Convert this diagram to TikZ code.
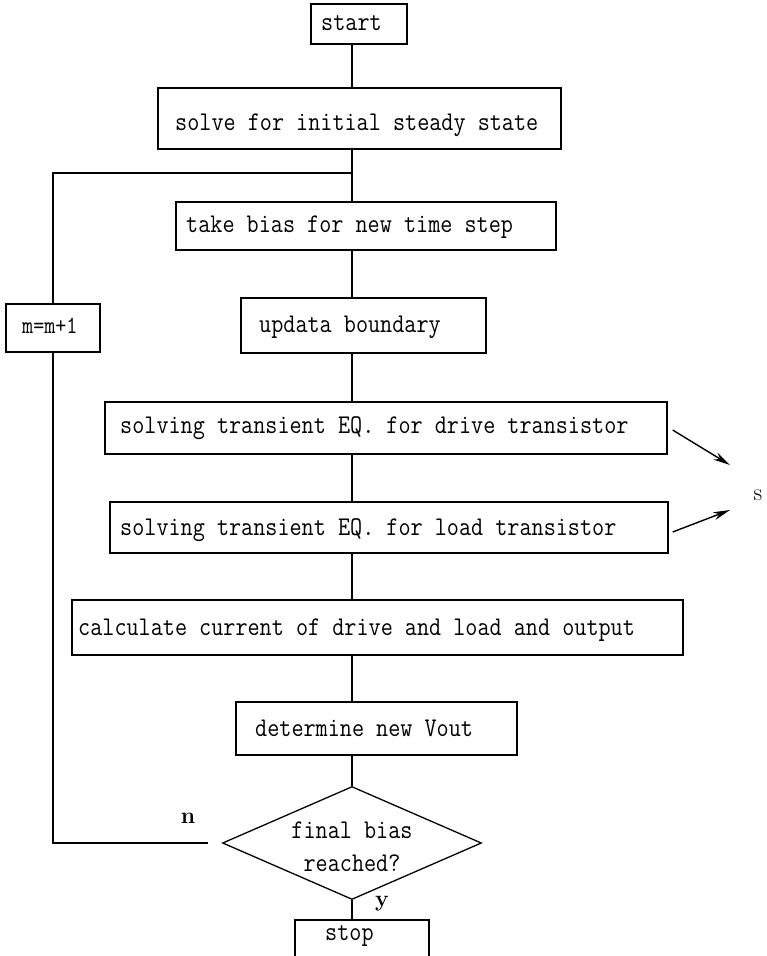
\documentclass[tikz,border=0pt]{standalone}
\usepackage{fontspec}
\usetikzlibrary{shapes.geometric,arrows.meta}
% slightly taller typewriter lettering
\newcommand\tallt[1]{\scalebox{1}[1.15]{#1}}
\begin{document}
\begin{tikzpicture}[x=1pt,y=-1pt,
  box/.style={draw, line width=1.3pt, inner sep=0pt},
  lbl/.style={inner sep=0pt, anchor=west, text height=14pt, text depth=4pt,
              font=\ttfamily\fontsize{23.5}{28}\selectfont},
  mark lbl/.style={inner sep=0pt, font=\bfseries\fontsize{23}{27}\selectfont},
  link/.style={line width=1.1pt},
  side/.style={line width=1.4pt, -{Stealth[length=17pt,width=8pt]}}]

% page frame
\useasboundingbox (0,0) rectangle (766,956);
\fill[white] (0,0) rectangle (766,956);

% main column of process boxes
\node[box, minimum width=96pt,  minimum height=40pt] (start) at (359,24) {};
\node[lbl] (startT) at (321,25) {\tallt{start}};

\node[box, minimum width=403pt, minimum height=61pt] (solve) at (359.5,118.5) {};
\node[lbl] (solveT) at (175,125) {\tallt{solve for initial steady state}};

\node[box, minimum width=380pt, minimum height=48pt] (take) at (366,226) {};
\node[lbl] (takeT) at (186,227) {\tallt{take bias for new time step}};

\node[box, minimum width=245pt, minimum height=55pt] (upd) at (363.5,325.5) {};
\node[lbl] (updT) at (259,327) {\tallt{updata boundary}};

\node[box, minimum width=562pt, minimum height=52pt] (drive) at (386,428) {};
\node[lbl] (driveT) at (120,428) {\tallt{solving transient EQ. for drive transistor}};

\node[box, minimum width=558pt, minimum height=51pt] (load) at (389,527.5) {};
\node[lbl] (loadT) at (120,530) {\tallt{solving transient EQ. for load transistor}};

\node[box, minimum width=611pt, minimum height=55pt] (calc) at (377.5,627.5) {};
\node[lbl] (calcT) at (78,630) {\tallt{calculate current of drive and load and output}};

\node[box, minimum width=281pt, minimum height=53pt] (det) at (376.5,728.5) {};
\node[lbl] (detT) at (255,731) {\tallt{determine new Vout}};

% decision
\node[box, diamond, minimum width=259pt, minimum height=113pt] (dec) at (352,843) {};
\node[lbl, anchor=center] (decT1) at (352,833) {\tallt{final bias}};
\node[lbl, anchor=center] (decT2) at (352,866) {\tallt{reached?}};

\node[box, minimum width=134pt, minimum height=55pt] (stop) at (362,947.5) {};
\node[lbl] (stopT) at (325,935) {\tallt{stop}};

% loop counter
\node[box, minimum width=94pt, minimum height=48pt] (cnt) at (53,328) {};
\node[lbl, font=\ttfamily\fontsize{21.5}{26}\selectfont] (cntT) at (22,328) {\tallt{m=m+1}};

% branch labels
\node[mark lbl] (nLab) at (188,818) {n};
\node[mark lbl] (yLab) at (382,904) {y};
\node[inner sep=0pt, font=\fontsize{24}{28}\selectfont] (sLab) at (758,495) {s};

% vertical flow line
\coordinate (axis) at (352,0);
\coordinate (join) at (352,173);
\draw[link] (start.south -| axis) -- (solve.north -| axis);
\draw[link] (solve.south -| axis) -- (take.north -| axis);
\draw[link] (take.south -| axis) -- (upd.north -| axis);
\draw[link] (upd.south -| axis) -- (drive.north -| axis);
\draw[link] (drive.south -| axis) -- (load.north -| axis);
\draw[link] (load.south -| axis) -- (calc.north -| axis);
\draw[link] (calc.south -| axis) -- (det.north -| axis);
\draw[link] (det.south -| axis) -- (dec.north);
\draw[link] (dec.south) -- (stop.north -| dec.south);

% return loop
\draw[link] (join) -| (cnt.north);
\draw[link, shorten <=14pt] (dec.west) -| (cnt.south);

% side arrows
\coordinate (driveTip) at (730,465);
\coordinate (loadTip) at (730,510);
\draw[side] ([shift={(5,2)}]drive.east) -- (driveTip);
\draw[side] ([shift={(4,4.5)}]load.east) -- (loadTip);
\end{tikzpicture}
\end{document}
